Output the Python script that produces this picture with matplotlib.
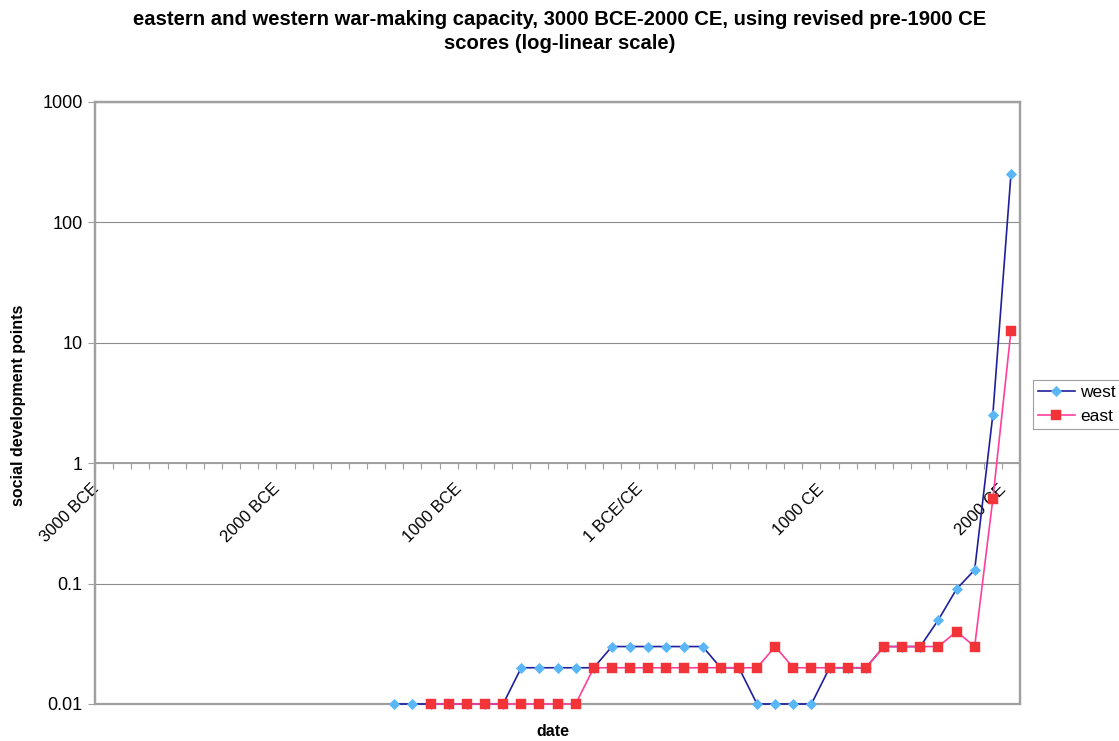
import numpy as np
import matplotlib
matplotlib.use("Agg")
import matplotlib.pyplot as plt
import matplotlib.transforms as mtransforms
from matplotlib.patches import Rectangle

plt.rcParams['font.family'] = ['Liberation Sans', 'DejaVu Sans']

# categories: every century from 3000 BCE to 2000 CE
years = list(range(-3000, 2001, 100))
label_years = [-3000, -2000, -1000, 0, 1000, 2000]
label_texts = ["3000 BCE", "2000 BCE", "1000 BCE", "1 BCE/CE", "1000 CE", "2000 CE"]

nan = np.nan
# west values (None before 1400 BCE)
west = [nan] * 16 + [0.01] * 7 + [0.02] * 5 + [0.03] * 6 + [0.02] * 2 + [0.01] * 4 \
    + [0.02] * 3 + [0.03] * 3 + [0.05, 0.09, 0.13, 2.5, 250]
# east values (None before 1200 BCE)
east = [nan] * 18 + [0.01] * 9 + [0.02] * 10 + [0.03] + [0.02] * 5 + [0.03] * 4 \
    + [0.04, 0.03, 0.5, 12.5]

W, H = 1119, 741
fig = plt.figure(figsize=(W / 100, H / 100), dpi=100)
ax = fig.add_axes([95 / W, 1 - 704 / H, (1020 - 95) / W, (704 - 102) / H])

x = np.arange(len(years))
ax.plot(x, west, color="#1f1f9e", lw=1.2, marker="D", ms=5.0,
        mfc="#5bb6f7", mec="#5bb6f7", mew=0.6, label="west", zorder=3, clip_on=False)
ax.plot(x, east, color="#ff3f9a", lw=1.2, marker="s", ms=7.0,
        mfc="#f23338", mec="#f23338", mew=0.3, label="east", zorder=4, clip_on=False)

ax.set_yscale("log")
ax.set_ylim(0.01, 1000)
ax.set_xlim(-0.5, len(years) - 0.5)
ax.set_yticks([0.01, 0.1, 1, 10, 100, 1000])
ax.set_yticklabels(["0.01", "0.1", "1", "10", "100", "1000"])
ax.yaxis.set_minor_locator(matplotlib.ticker.NullLocator())

ax.grid(axis="y", which="major", color="#8c8c8c", lw=0.8)
ax.set_axisbelow(True)

frame_col = "#a0a0a0"
for s in ["top", "right", "left"]:
    ax.spines[s].set_color(frame_col)
    ax.spines[s].set_linewidth(1.6)
ax.spines["bottom"].set_position(("data", 1))
ax.spines["bottom"].set_color(frame_col)
ax.spines["bottom"].set_linewidth(1.4)
ax.add_patch(Rectangle((0, 0), 1, 1, transform=ax.transAxes, fill=False,
                       ec=frame_col, lw=1.6, zorder=0.5, clip_on=False))

# x ticks: labels every 10 categories, small ticks between categories
pos = [years.index(yv) for yv in label_years]
ax.set_xticks(pos)
ax.set_xticklabels(label_texts)
ax.set_xticks(np.arange(-0.5, len(years), 1.0), minor=True)
ax.tick_params(axis="x", which="major", length=0, pad=13, labelsize=12)
ax.tick_params(axis="x", which="minor", length=4, width=0.8, color=frame_col, direction="out")
ax.tick_params(axis="y", which="major", length=5, width=0.8, color=frame_col,
               labelsize=13, pad=4)
offset = mtransforms.ScaledTranslation(-13 / 100, 0, fig.dpi_scale_trans)
for lab in ax.get_xticklabels():
    lab.set_rotation(45)
    lab.set_ha("right")
    lab.set_va("top")
    lab.set_rotation_mode("anchor")
    lab.set_transform(lab.get_transform() + offset)

fig.text(0.5, 1 - 31.5 / H, "eastern and western war-making capacity, 3000 BCE-2000 CE, using revised pre-1900 CE\nscores (log-linear scale)",
         ha="center", va="center", fontsize=14.6, fontweight="bold", linespacing=1.3)
fig.text(19 / W, 1 - 405 / H, "social development points", rotation=90, ha="center",
         va="center", fontsize=11.5, fontweight="bold")
fig.text(553 / W, 1 - 731 / H, "date", ha="center", va="center", fontsize=11.5,
         fontweight="bold")

leg = ax.legend(loc="upper left", bbox_to_anchor=(1033 / W, 1 - 380 / H),
                bbox_transform=fig.transFigure, frameon=True, fancybox=False,
                fontsize=12.5, borderpad=0.3, handlelength=2.1, handletextpad=0.3,
                labelspacing=0.5, borderaxespad=0)
leg.get_frame().set_edgecolor("#888888")
leg.get_frame().set_linewidth(0.8)

fig.savefig("out.png", dpi=100)
